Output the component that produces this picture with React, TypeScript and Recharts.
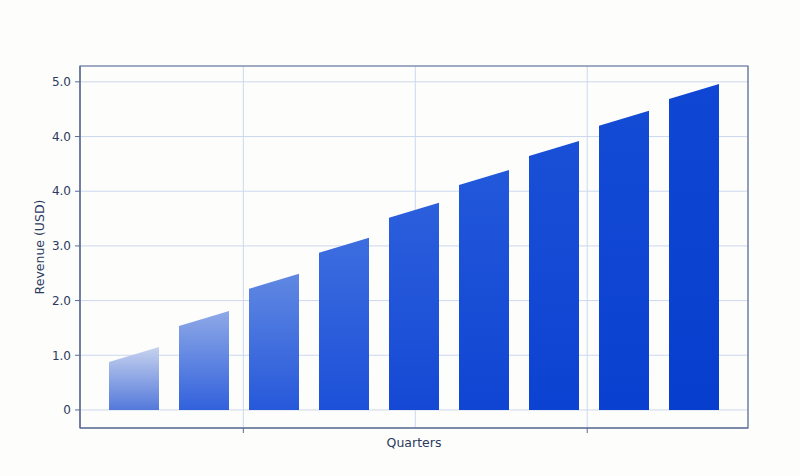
import { BarChart, Bar, XAxis, YAxis, CartesianGrid, ReferenceArea } from 'recharts'

const QUARTERS = ['Q1', 'Q2', 'Q3', 'Q4', 'Q5', 'Q6', 'Q7', 'Q8', 'Q9']
const REVENUE = [1.15, 1.81, 2.49, 3.15, 3.79, 4.39, 4.92, 5.47, 5.96]
const Y_TICKS = [0, 1, 2, 3, 4, 5, 6]
const Y_LABELS = ['0', '1.0', '2.0', '3.0', '4.0', '4.0', '5.0']
const GRID_TICKS = [2, 4, 6]
const FRAME_TICKS = [2, 6]
const X_DOMAIN: [number, number] = [0.1, 7.87]
const Y_DOMAIN: [number, number] = [-0.33, 6.29]

// per-bar gradient (top, bottom)
const BAR_TOP = ['#c6d2ee', '#8fa9e7', '#6088e2', '#3d6ddf', '#2c5fdc', '#2258da', '#1a50d7', '#144bd5', '#0f47d4']
const BAR_BOTTOM = ['#5479db', '#3161dc', '#2658da', '#1c50d8', '#1549d5', '#1045d3', '#0c42d1', '#0a40cf', '#083ecd']

const FRAME = '#5b6b92'
const TEXT = '#2b3a60'
const GRID = '#ccd8ee'
const SLANT = 15

const data = QUARTERS.map((q, i) => ({ quarter: q, revenue: REVENUE[i], idx: i }))

function SlantBar(props: any) {
  const { x, y, width, height, payload } = props
  if (!height) return null
  const d = `M${x},${y + SLANT} L${x + width},${y} L${x + width},${y + height} L${x},${y + height} Z`
  return <path d={d} fill={`url(#bar-${payload.idx})`} />
}

export default function App() {
  return (
    <div style={{ position: 'absolute', left: 0, top: 0, width: 800, height: 476, background: '#fdfdfb' }}>
      <BarChart
        width={800}
        height={476}
        data={data}
        margin={{ top: 66, right: 52, left: 30, bottom: 18 }}
      >
        <defs>
          {QUARTERS.map((_, i) => (
            <linearGradient key={i} id={`bar-${i}`} x1="0" y1="0" x2="0" y2="1">
              <stop offset="0%" stopColor={BAR_TOP[i]} />
              <stop offset="100%" stopColor={BAR_BOTTOM[i]} />
            </linearGradient>
          ))}
        </defs>
        <XAxis xAxisId="cat" dataKey="quarter" hide height={0} padding={{ left: 19, right: 19 }} />
        <XAxis
          xAxisId="grid"
          dataKey="idx"
          type="number"
          domain={X_DOMAIN}
          ticks={GRID_TICKS}
          allowDataOverflow
          hide
          height={0}
        />
        <XAxis
          xAxisId="frame"
          dataKey="idx"
          type="number"
          domain={X_DOMAIN}
          ticks={FRAME_TICKS}
          allowDataOverflow
          height={30}
          tickFormatter={() => ''}
          axisLine={{ stroke: FRAME, strokeWidth: 1.2 }}
          tickLine={{ stroke: FRAME }}
          tickSize={5}
          label={{
            value: 'Quarters',
            position: 'insideBottom',
            offset: 11,
            fill: TEXT,
            fontSize: 12.5,
            fontFamily: 'DejaVu Sans',
          }}
        />
        <YAxis
          type="number"
          domain={Y_DOMAIN}
          ticks={Y_TICKS}
          allowDataOverflow
          tickFormatter={(v) => Y_LABELS[Y_TICKS.indexOf(v)] ?? ''}
          width={50}
          tickSize={5}
          tickMargin={4}
          axisLine={{ stroke: FRAME, strokeWidth: 1.2 }}
          tickLine={{ stroke: FRAME }}
          tick={{ fill: TEXT, fontSize: 12, fontFamily: 'DejaVu Sans' }}
          label={{
            value: 'Revenue (USD)',
            angle: -90,
            position: 'insideLeft',
            offset: 10,
            textAnchor: 'middle',
            fill: TEXT,
            fontSize: 12.5,
            fontFamily: 'DejaVu Sans',
          }}
        />
        <CartesianGrid xAxisId="grid" stroke={GRID} strokeWidth={1} />
        <Bar
          xAxisId="cat"
          dataKey="revenue"
          barSize={50}
          shape={SlantBar}
          isAnimationActive={false}
        />
        <ReferenceArea
          xAxisId="grid"
          x1={X_DOMAIN[0]}
          x2={X_DOMAIN[1]}
          y1={Y_DOMAIN[0]}
          y2={Y_DOMAIN[1]}
          fill="none"
          stroke={FRAME}
          strokeWidth={1.2}
        />
      </BarChart>
    </div>
  )
}
